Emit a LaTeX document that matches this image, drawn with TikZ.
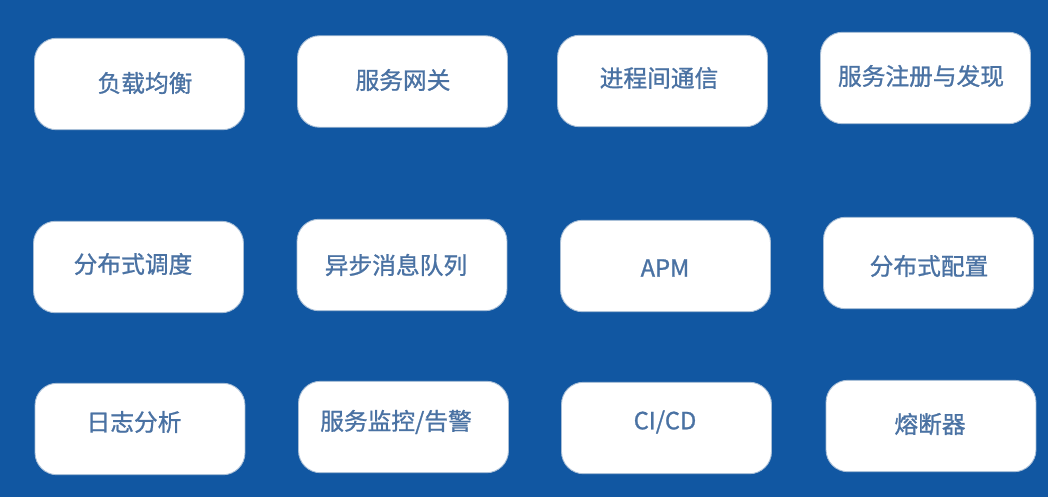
\documentclass[tikz,border=0pt]{standalone}
\usepackage{fontspec}
\newfontfamily\cjk{Noto Sans CJK SC}[FakeBold=1]
\usetikzlibrary{positioning}
\definecolor{bgblue}{HTML}{1157A2}
\definecolor{txtblue}{HTML}{4A72A3}
\definecolor{edgeblue}{HTML}{A8BED6}

\begin{document}
\begin{tikzpicture}[x=0.02cm, y=-0.02cm,
  box/.style={draw=edgeblue, line width=0.5pt, fill=white, rounded corners=0.44cm,
    minimum width=4.2cm, minimum height=1.83cm, inner sep=0pt},
  lbl/.style={text=txtblue, font=\cjk\fontsize{13.5}{16}\selectfont, inner sep=0pt}]
              % Fondo
              \fill[bgblue] (0,0) rectangle (1048,497);
              \useasboundingbox (0,0) rectangle (1048,497);

              % Cajas
              \node[box](balance)   at (139.5,84)  {};
              \node[box](gateway)   at (402.5,81.5) {};
              \node[box](ipc)       at (662.5,81)  {};
              \node[box](registry)  at (925.5,78)  {};
              \node[box](schedule)  at (138.5,267) {};
              \node[box](mq)        at (402,265)   {};
              \node[box](apm)       at (665.5,266) {};
              \node[box](config)    at (928.5,263) {};
              \node[box](logs)      at (140,429)   {};
              \node[box](monitor)   at (403.5,427) {};
              \node[box](cicd)      at (666.5,428) {};
              \node[box](breaker)   at (931,426)   {};

              % Textos
              \node[lbl](balance-t)  at (145,83)  {负载均衡};
              \node[lbl](gateway-t)  at (403,80)  {服务网关};
              \node[lbl](ipc-t)      at (659,78)  {进程间通信};
              \node[lbl](registry-t) at (921,76)  {服务注册与发现};
              \node[lbl](schedule-t) at (133,264) {分布式调度};
              \node[lbl](mq-t)       at (396,265) {异步消息队列};
              \node[lbl](apm-t)      at (665,268) {APM};
              \node[lbl](config-t)   at (929,266) {分布式配置};
              \node[lbl](logs-t)     at (134,422) {日志分析};
              \node[lbl](monitor-t)  at (396,422) {服务监控/告警};
              \node[lbl](cicd-t)     at (665,422) {CI/CD};
              \node[lbl](breaker-t)  at (930,424) {熔断器};
            \end{tikzpicture}
\end{document}
